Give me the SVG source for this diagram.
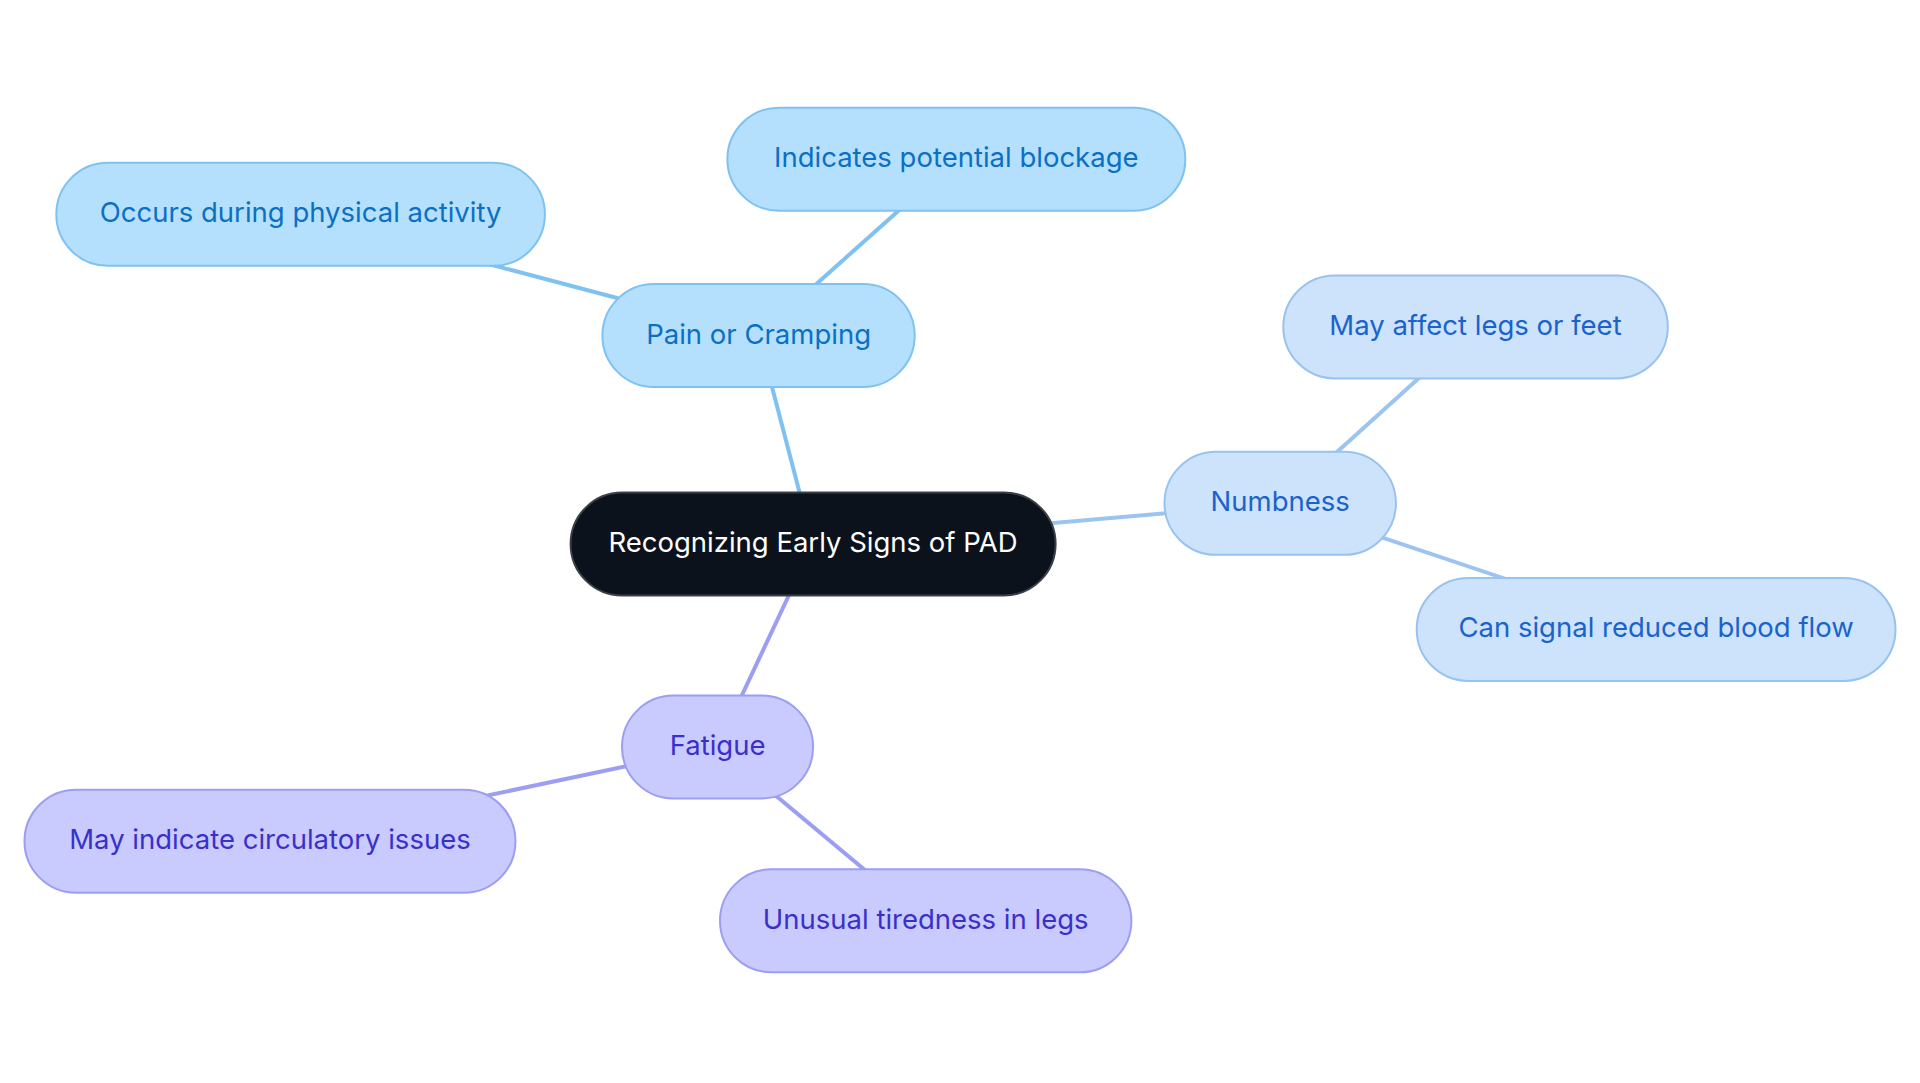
<svg xmlns="http://www.w3.org/2000/svg" width="1920" height="1083" viewBox="0 0 1920 1083">
<style>
text{font-family:Inter,"Noto Sans","Liberation Sans",sans-serif;font-size:27.5px;text-anchor:middle;dominant-baseline:central}
.root rect{fill:#0b121c;stroke:#3b4048;stroke-width:2}
.root text{fill:#ffffff}
.pain rect{fill:#b4e0fd;stroke:#7fc2f2;stroke-width:2}
.pain text{fill:#0b6fc4}
.numb rect{fill:#cde3fb;stroke:#98c2f0;stroke-width:2}
.numb text{fill:#1a62cc}
.fat rect{fill:#c9cafe;stroke:#9c9ef2;stroke-width:2}
.fat text{fill:#3a30c9}
.c{stroke-width:4;fill:none;stroke-linecap:round}
.cp{stroke:#7fc2f2}
.cn{stroke:#9cc4f0}
.cf{stroke:#9c9ef2}
</style>
<rect width="1920" height="1083" fill="#ffffff"/>
<g id="connectors">
<line class="c cp" x1="813" y1="544" x2="758.6" y2="335.5"/>
<line class="c cp" x1="758.6" y1="335.5" x2="300.6" y2="214.3"/>
<line class="c cp" x1="758.6" y1="335.5" x2="956.3" y2="159.2"/>
<line class="c cn" x1="813" y1="544" x2="1280.2" y2="503.3"/>
<line class="c cn" x1="1280.2" y1="503.3" x2="1475.5" y2="326.9"/>
<line class="c cn" x1="1280.2" y1="503.3" x2="1656.1" y2="629.4"/>
<line class="c cf" x1="813" y1="544" x2="717.6" y2="747"/>
<line class="c cf" x1="717.6" y1="747" x2="270" y2="841.2"/>
<line class="c cf" x1="717.6" y1="747" x2="925.7" y2="920.8"/>
</g>
<g id="root" class="root">
<rect x="570.6" y="492.5" width="485" height="103" rx="51.5"/>
<text x="813" y="542">Recognizing Early Signs of PAD</text>
</g>
<g id="pain" class="pain">
<rect x="602.4" y="284" width="312.3" height="103" rx="51.5"/>
<text x="758.6" y="333.5">Pain or Cramping</text>
</g>
<g id="occurs" class="pain">
<rect x="56.3" y="162.8" width="488.6" height="103" rx="51.5"/>
<text x="300.6" y="212.3">Occurs during physical activity</text>
</g>
<g id="indicates" class="pain">
<rect x="727.4" y="107.7" width="457.9" height="103" rx="51.5"/>
<text x="956.3" y="157.2">Indicates potential blockage</text>
</g>
<g id="numbness" class="numb">
<rect x="1164.5" y="451.8" width="231.4" height="103" rx="51.5"/>
<text x="1280.2" y="501.3">Numbness</text>
</g>
<g id="affect" class="numb">
<rect x="1283.3" y="275.4" width="384.5" height="103" rx="51.5"/>
<text x="1475.5" y="324.9">May affect legs or feet</text>
</g>
<g id="signal" class="numb">
<rect x="1416.7" y="577.9" width="478.8" height="103" rx="51.5"/>
<text x="1656.1" y="627.4">Can signal reduced blood flow</text>
</g>
<g id="fatigue" class="fat">
<rect x="622" y="695.5" width="191.1" height="103" rx="51.5"/>
<text x="717.6" y="745">Fatigue</text>
</g>
<g id="circulatory" class="fat">
<rect x="24.5" y="789.7" width="491" height="103" rx="51.5"/>
<text x="270" y="839.2">May indicate circulatory issues</text>
</g>
<g id="tiredness" class="fat">
<rect x="720" y="869.3" width="411.4" height="103" rx="51.5"/>
<text x="925.7" y="918.8">Unusual tiredness in legs</text>
</g>
</svg>
